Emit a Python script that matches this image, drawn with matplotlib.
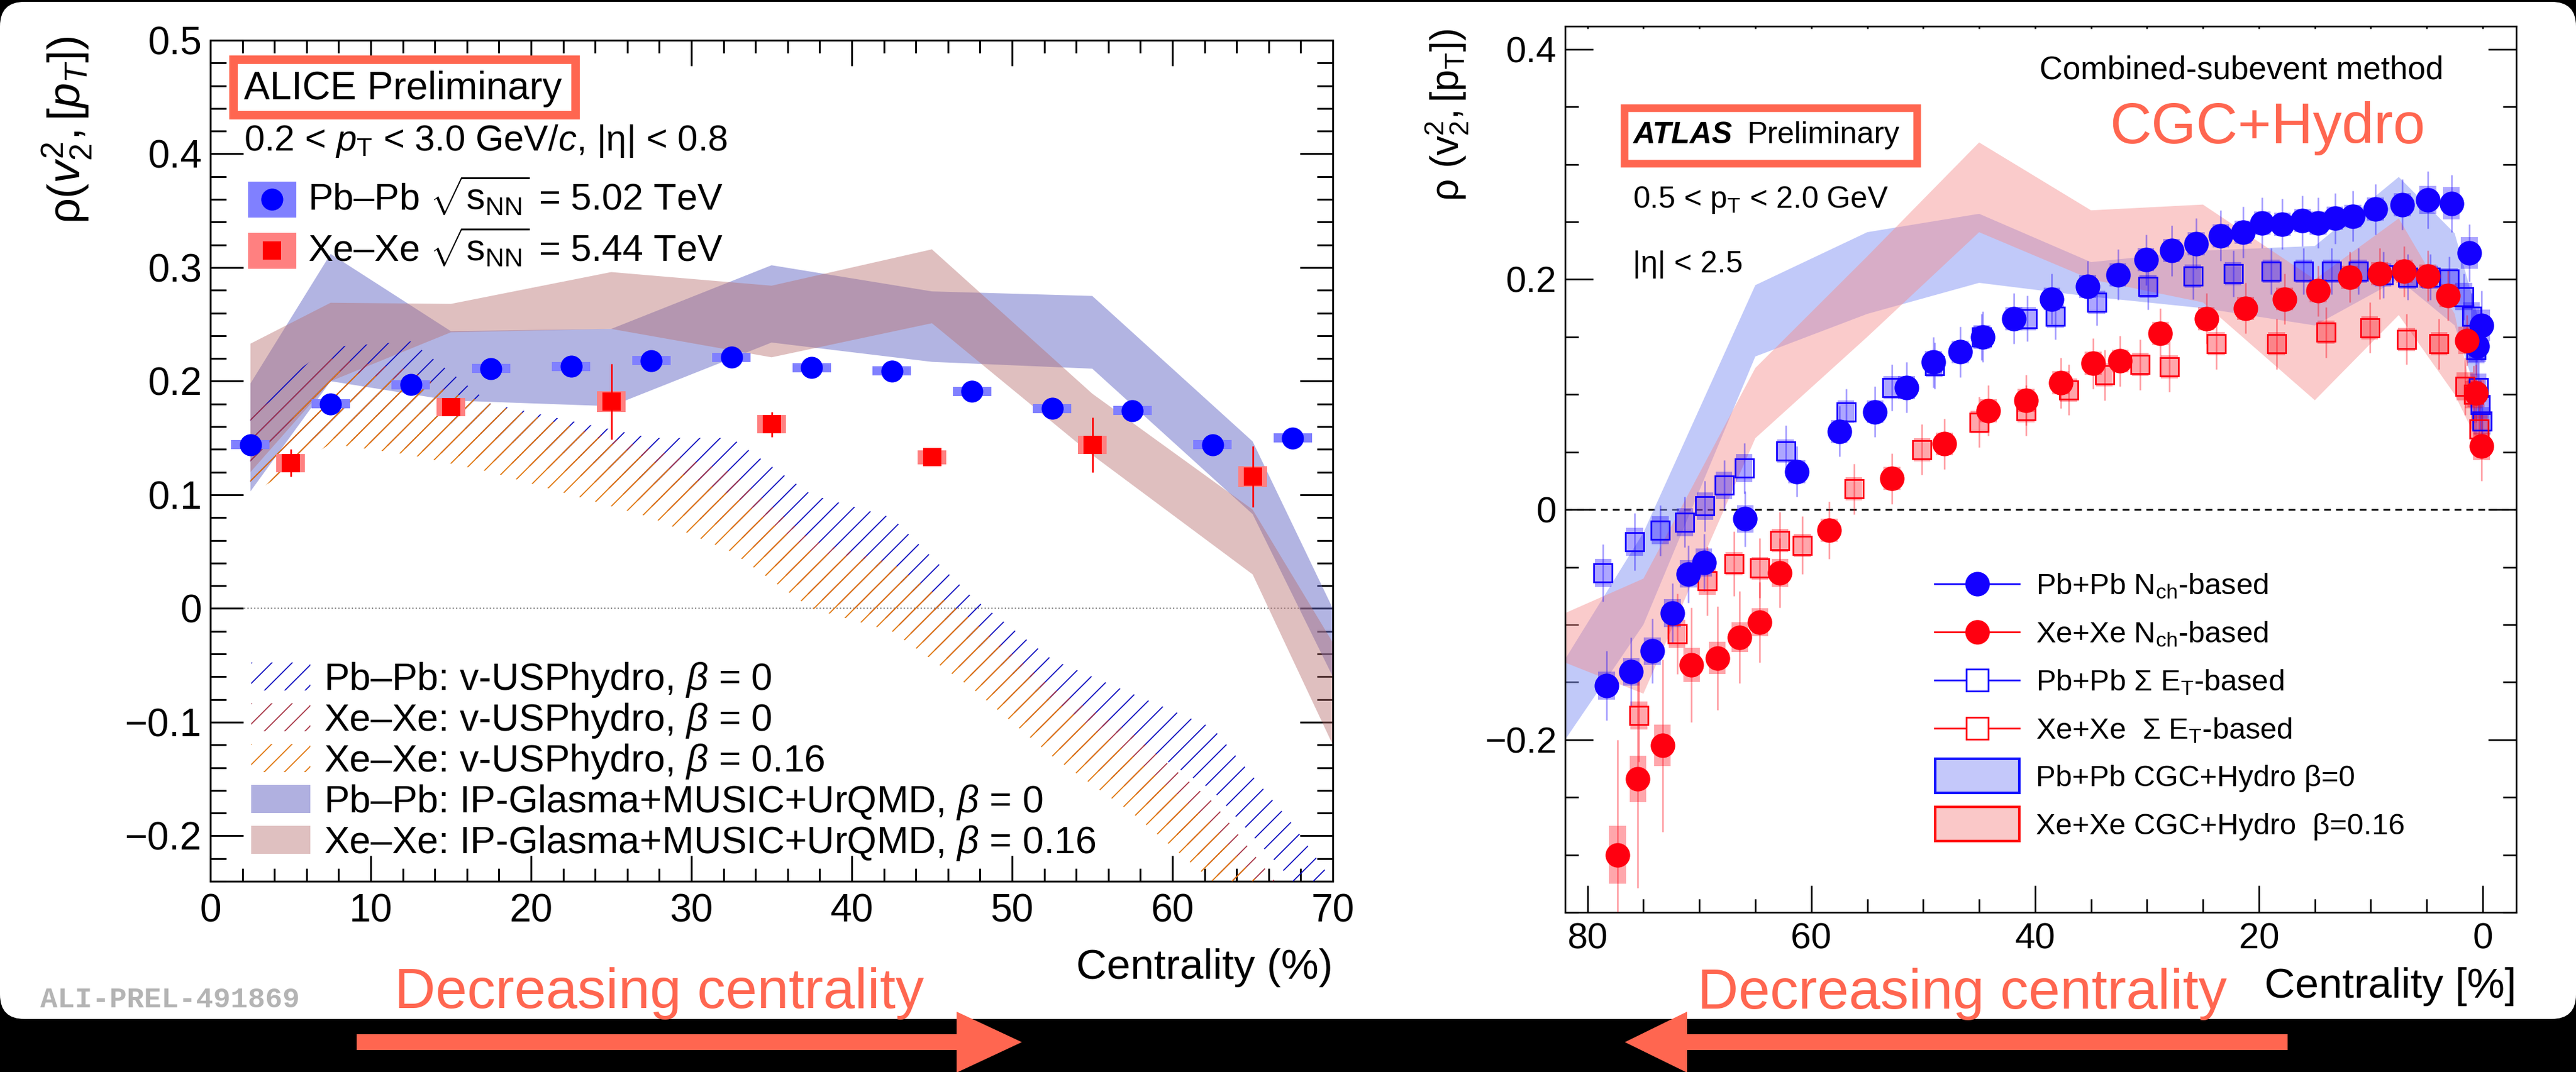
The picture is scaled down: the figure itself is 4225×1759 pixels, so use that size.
import numpy as np
import matplotlib
matplotlib.use('Agg')
import matplotlib.pyplot as plt
from matplotlib.patches import Rectangle, FancyBboxPatch, Polygon
from matplotlib.lines import Line2D
from matplotlib.ticker import MultipleLocator, FuncFormatter
from matplotlib.transforms import IdentityTransform

W, H, DPI = 4225, 1759, 100
plt.rcParams['font.family'] = ['Liberation Sans', 'DejaVu Sans']
plt.rcParams['mathtext.fontset'] = 'custom'
plt.rcParams['mathtext.rm'] = 'Liberation Sans'
plt.rcParams['mathtext.it'] = 'Liberation Sans:italic'
plt.rcParams['mathtext.bf'] = 'Liberation Sans:bold'
plt.rcParams['hatch.linewidth'] = 1.3

CORAL = '#ff6650'

# ---------------- ALICE data (left) ----------------
alice_pb_cent = [2.5, 7.5, 12.5, 17.5, 22.5, 27.5, 32.5, 37.5, 42.5, 47.5, 52.5, 57.5, 62.5, 67.5]
alice_pb_rho = [0.144, 0.180, 0.197, 0.211, 0.213, 0.218, 0.221, 0.212, 0.209, 0.191, 0.176, 0.174, 0.144, 0.150]
alice_pb_stat = [0.002, 0.002, 0.002, 0.002, 0.002, 0.002, 0.002, 0.002, 0.002, 0.002, 0.002, 0.003, 0.003, 0.004]
alice_pb_syst = [0.004, 0.004, 0.004, 0.004, 0.004, 0.004, 0.004, 0.004, 0.004, 0.004, 0.004, 0.004, 0.004, 0.004]

alice_xe_cent = [5, 15, 25, 35, 45, 55, 65]
alice_xe_rho = [0.128, 0.177, 0.182, 0.162, 0.133, 0.144, 0.116]
alice_xe_stat = [0.012, 0.005, 0.033, 0.011, 0.005, 0.024, 0.027]
alice_xe_syst = [0.008, 0.008, 0.009, 0.008, 0.006, 0.008, 0.009]

# IP-Glasma+MUSIC+UrQMD bands
ipg_pb_cent = [2.5, 7.5, 15, 25, 35, 45, 55, 65, 70]
ipg_pb_hi = [0.198, 0.312, 0.244, 0.246, 0.302, 0.279, 0.275, 0.147, 0.000]
ipg_pb_lo = [0.103, 0.200, 0.183, 0.178, 0.234, 0.217, 0.211, 0.083, -0.060]
ipg_xe_cent = [2.5, 7.5, 15, 25, 35, 45, 55, 65, 70]
ipg_xe_hi = [0.233, 0.269, 0.268, 0.296, 0.284, 0.316, 0.189, 0.087, -0.030]
ipg_xe_lo = [0.120, 0.200, 0.243, 0.246, 0.221, 0.251, 0.135, 0.030, -0.120]

# v-USPhydro bands
vus_cent = [2.5, 7.5, 12.5, 17.5, 22.5, 27.5, 32.5, 37.5, 42.5, 47.5, 52.5, 57.5, 62.5, 67.5, 70]
vus_pb_hi = [0.180, 0.230, 0.235, 0.180, 0.165, 0.150, 0.150, 0.100, 0.080, 0.010, -0.045, -0.075, -0.105, -0.190, -0.240]
vus_pb_lo = [0.110, 0.160, 0.175, 0.150, 0.135, 0.110, 0.100, 0.060, 0.030, -0.030, -0.085, -0.115, -0.160, -0.240, -0.290]
vus_xe0_hi = [0.170, 0.220, 0.210, 0.170, 0.160, 0.140, 0.120, 0.060, 0.040, -0.010, -0.070, -0.110, -0.170, -0.260, -0.300]
vus_xe0_lo = [0.100, 0.150, 0.140, 0.130, 0.120, 0.090, 0.070, 0.010, -0.010, -0.060, -0.120, -0.160, -0.230, -0.320, -0.360]
vus_xe16_hi = [0.120, 0.210, 0.200, 0.180, 0.160, 0.130, 0.100, 0.050, 0.040, -0.010, -0.080, -0.130, -0.190, -0.280, -0.320]
vus_xe16_lo = [0.100, 0.145, 0.135, 0.120, 0.100, 0.080, 0.050, 0.000, -0.020, -0.070, -0.130, -0.180, -0.240, -0.340, -0.380]

# ---------------- ATLAS data (right) ----------------
atl_pb_nch_cent = [78.3, 76.1, 74.2, 72.4, 71.0, 69.6, 65.9, 61.3, 57.5, 54.3, 51.5, 49.1, 46.7, 44.7, 41.9, 38.5,
                   35.3, 32.6, 30.1, 27.8, 25.6, 23.4, 21.4, 19.7, 17.9, 16.1, 14.7, 13.2, 11.6, 9.6, 7.2, 4.9,
                   2.8, 1.2, 0.5, 0.1]
atl_pb_nch_rho = [-0.153, -0.141, -0.123, -0.090, -0.056, -0.046, -0.008, 0.033, 0.068, 0.085, 0.106, 0.128, 0.137,
                  0.150, 0.166, 0.183, 0.194, 0.204, 0.217, 0.225, 0.231, 0.238, 0.241, 0.249, 0.248, 0.251, 0.249,
                  0.253, 0.255, 0.261, 0.265, 0.269, 0.266, 0.223, 0.142, 0.160]
atl_pb_nch_err = [0.030, 0.030, 0.028, 0.026, 0.025, 0.025, 0.024, 0.022, 0.022, 0.022, 0.022, 0.022, 0.022, 0.022,
                  0.022, 0.022, 0.022, 0.022, 0.022, 0.022, 0.022, 0.022, 0.022, 0.022, 0.022, 0.022, 0.022, 0.022,
                  0.022, 0.022, 0.022, 0.025, 0.025, 0.025, 0.028, 0.030]
atl_pb_nch_sys = [0.012, 0.012, 0.012, 0.012, 0.012, 0.012, 0.012, 0.010, 0.010, 0.010, 0.010, 0.010, 0.010, 0.010,
                  0.010, 0.010, 0.010, 0.010, 0.010, 0.010, 0.010, 0.010, 0.010, 0.010, 0.010, 0.010, 0.010, 0.010,
                  0.010, 0.010, 0.010, 0.012, 0.014, 0.014, 0.014, 0.014]

atl_xe_nch_cent = [77.3, 75.5, 73.3, 70.7, 68.4, 66.4, 64.6, 62.8, 58.4, 52.8, 48.1, 44.2, 40.8, 37.7, 34.8, 32.4,
                   28.8, 24.7, 21.2, 17.7, 14.7, 11.9, 9.2, 7.0, 4.9, 3.1, 1.4, 0.6, 0.1]
atl_xe_nch_rho = [-0.300, -0.234, -0.205, -0.135, -0.129, -0.111, -0.098, -0.055, -0.018, 0.027, 0.057, 0.086, 0.095,
                  0.110, 0.127, 0.129, 0.153, 0.166, 0.175, 0.183, 0.190, 0.202, 0.205, 0.207, 0.203, 0.186, 0.147,
                  0.101, 0.055]
atl_xe_nch_err = [0.100, 0.095, 0.075, 0.050, 0.045, 0.040, 0.035, 0.030, 0.025, 0.022, 0.022, 0.022, 0.022, 0.022,
                  0.022, 0.022, 0.022, 0.022, 0.022, 0.022, 0.022, 0.022, 0.022, 0.022, 0.022, 0.022, 0.022, 0.025,
                  0.030]
atl_xe_nch_sys = [0.025, 0.020, 0.018, 0.015, 0.014, 0.013, 0.012, 0.012, 0.010, 0.010, 0.010, 0.010, 0.010, 0.010,
                  0.010, 0.010, 0.010, 0.010, 0.010, 0.010, 0.010, 0.010, 0.010, 0.010, 0.010, 0.010, 0.012, 0.012,
                  0.012]

atl_pb_et_cent = [78.6, 75.8, 73.5, 71.3, 69.5, 67.8, 66.0, 62.3, 56.9, 52.8, 49.0, 44.8, 40.7, 38.2, 34.5, 29.9,
                  25.9, 22.3, 18.9, 16.0, 13.5, 11.1, 8.9, 6.7, 4.7, 3.0, 1.7, 1.0, 0.6, 0.4, 0.2, 0.05]
atl_pb_et_rho = [-0.055, -0.028, -0.018, -0.011, 0.003, 0.021, 0.036, 0.051, 0.085, 0.106, 0.125, 0.150, 0.166,
                 0.168, 0.180, 0.194, 0.203, 0.205, 0.207, 0.207, 0.207, 0.207, 0.204, 0.202, 0.202, 0.200, 0.185,
                 0.168, 0.139, 0.106, 0.091, 0.077]
atl_pb_et_err = [0.025, 0.025, 0.022, 0.022, 0.022, 0.022, 0.022, 0.022, 0.020, 0.020, 0.020, 0.020, 0.020, 0.020,
                 0.020, 0.020, 0.020, 0.020, 0.020, 0.020, 0.020, 0.020, 0.020, 0.020, 0.020, 0.020, 0.020, 0.020,
                 0.022, 0.022, 0.022, 0.022]
atl_pb_et_sys = [0.012, 0.012, 0.012, 0.012, 0.012, 0.012, 0.012, 0.010, 0.010, 0.010, 0.010, 0.010, 0.010, 0.010,
                 0.010, 0.010, 0.010, 0.010, 0.010, 0.010, 0.010, 0.010, 0.010, 0.010, 0.010, 0.010, 0.012, 0.012,
                 0.012, 0.012, 0.012, 0.012]

atl_xe_et_cent = [75.4, 72.0, 69.3, 66.9, 64.6, 62.8, 60.8, 56.2, 50.1, 45.0, 40.8, 37.0, 33.8, 30.6, 28.0, 23.8,
                  18.4, 14.0, 10.1, 6.8, 3.9, 1.6, 0.8, 0.3]
atl_xe_et_rho = [-0.179, -0.108, -0.062, -0.047, -0.051, -0.027, -0.031, 0.018, 0.052, 0.076, 0.086, 0.104, 0.117,
                 0.126, 0.124, 0.144, 0.144, 0.154, 0.158, 0.148, 0.144, 0.107, 0.100, 0.070]
atl_xe_et_err = [0.040, 0.035, 0.030, 0.028, 0.026, 0.025, 0.025, 0.022, 0.022, 0.022, 0.022, 0.022, 0.022, 0.022,
                 0.022, 0.022, 0.022, 0.022, 0.022, 0.022, 0.022, 0.025, 0.025, 0.025]
atl_xe_et_sys = [0.012, 0.012, 0.012, 0.010, 0.010, 0.010, 0.010, 0.010, 0.010, 0.010, 0.010, 0.010, 0.010, 0.010,
                 0.010, 0.010, 0.010, 0.010, 0.010, 0.010, 0.010, 0.012, 0.012, 0.012]

# CGC+Hydro bands
cgc_pb_cent = [82, 75, 65, 55, 45, 35, 25, 15, 7.5, 2.5, 0.5]
cgc_pb_hi = [-0.130, -0.020, 0.195, 0.241, 0.257, 0.215, 0.225, 0.229, 0.289, 0.240, 0.170]
cgc_pb_lo = [-0.200, -0.100, 0.133, 0.170, 0.197, 0.185, 0.175, 0.160, 0.200, 0.160, 0.100]
cgc_xe_cent = [82, 75, 65, 55, 45, 35, 25, 15, 7.5, 2.5, 0.5]
cgc_xe_hi = [-0.090, -0.060, 0.123, 0.220, 0.319, 0.260, 0.265, 0.200, 0.253, 0.170, 0.080]
cgc_xe_lo = [-0.133, -0.160, 0.062, 0.150, 0.241, 0.200, 0.180, 0.095, 0.169, 0.100, 0.060]


def fx(px):
    return px / W


def fy(py):
    return 1 - py / H


fig = plt.figure(figsize=(W / DPI, H / DPI), dpi=DPI)
fig.patch.set_facecolor('black')
panel = FancyBboxPatch((0, H - 1672), W, 1672 - 3, boxstyle='round,pad=0,rounding_size=40',
                       transform=IdentityTransform(), facecolor='white', edgecolor='none', zorder=-10)
fig.patches.append(panel)

# ================= LEFT PANEL =================
axL = fig.add_axes([fx(345), fy(1446), fx(2186) - fx(345), fy(66) - fy(1446)])
axL.set_zorder(1)
axL.set_facecolor('none')
axL.set_xlim(0, 70)
axL.set_ylim(-0.24, 0.5)
for s in axL.spines.values():
    s.set_linewidth(2.2)
axL.xaxis.set_major_locator(MultipleLocator(10))
axL.xaxis.set_minor_locator(MultipleLocator(2))
axL.yaxis.set_major_locator(MultipleLocator(0.1))
axL.yaxis.set_minor_locator(MultipleLocator(0.02))
axL.tick_params(which='both', direction='in', top=True, right=True, width=2.2)
axL.tick_params(which='major', axis='x', length=30, labelsize=46, pad=14)
axL.tick_params(which='minor', axis='x', length=15)
axL.tick_params(which='major', axis='y', length=39, labelsize=46, pad=10)
axL.tick_params(which='minor', axis='y', length=19)


def fmtL(v, pos):
    if abs(v) < 1e-9:
        return '0'
    return ('%.1f' % v).replace('-', '\u2212')


axL.yaxis.set_major_formatter(FuncFormatter(fmtL))
axL.xaxis.set_major_formatter(FuncFormatter(lambda v, p: '%d' % round(v)))
axL.axhline(0, color='#888888', ls=':', lw=1.5, zorder=1)

axL.fill_between(ipg_pb_cent, ipg_pb_lo, ipg_pb_hi, facecolor=(0.40, 0.42, 0.78), alpha=0.5, lw=0, zorder=2)
axL.fill_between(ipg_xe_cent, ipg_xe_lo, ipg_xe_hi, facecolor=(0.72, 0.45, 0.45), alpha=0.45, lw=0, zorder=2)
HB, HR, HO = '#1010c0', '#a83848', '#e07810'
axL.fill_between(vus_cent, vus_pb_lo, vus_pb_hi, facecolor='none', edgecolor=HB, hatch='/', lw=0, zorder=3)
axL.fill_between(vus_cent, vus_xe0_lo, vus_xe0_hi, facecolor='none', edgecolor=HR, hatch='/', lw=0, zorder=3)
axL.fill_between(vus_cent, vus_xe16_lo, vus_xe16_hi, facecolor='none', edgecolor=HO, hatch='/', lw=0, zorder=3)

for x, y, s in zip(alice_pb_cent, alice_pb_rho, alice_pb_syst):
    axL.add_patch(Rectangle((x - 1.2, y - s), 2.4, 2 * s, facecolor='#8080ff', edgecolor='none', zorder=5))
for x, y, s in zip(alice_xe_cent, alice_xe_rho, alice_xe_syst):
    axL.add_patch(Rectangle((x - 0.9, y - s), 1.8, 2 * s, facecolor='#ff8080', edgecolor='none', zorder=5))
axL.errorbar(alice_pb_cent, alice_pb_rho, yerr=alice_pb_stat, fmt='none', ecolor='#0000ff', elinewidth=2, zorder=6)
axL.errorbar(alice_xe_cent, alice_xe_rho, yerr=alice_xe_stat, fmt='none', ecolor='#ff0000', elinewidth=2, zorder=6)
axL.plot(alice_pb_cent, alice_pb_rho, 'o', color='#0000ff', ms=26, mew=0, zorder=7)
axL.plot(alice_xe_cent, alice_xe_rho, 's', color='#ff0000', ms=22, mew=0, zorder=7)

axL.set_ylabel(r'$\mathrm{ρ}(v^{2}_{2},[p_{T}])$', fontsize=53)
axL.yaxis.set_label_coords(-0.104, 0.893)
axL.set_xlabel('Centrality (%)', fontsize=50, ha='right')
axL.xaxis.set_label_coords(1.0, -0.080)

fig.patches.append(Rectangle((fx(383), fy(189)), fx(944) - fx(383), fy(98) - fy(189), transform=fig.transFigure,
                             facecolor='white', edgecolor=CORAL, lw=10, zorder=10))
fig.text(fx(400), fy(163), 'ALICE Preliminary', fontsize=46, ha='left', va='baseline', zorder=11)
fig.text(fx(400), fy(247), r'0.2 < $p_{\mathrm{T}}$ < 3.0 GeV/$c$, |η| < 0.8', fontsize=43, ha='left',
         va='baseline', zorder=11)
fig.patches.append(Rectangle((fx(407), fy(357)), fx(79), fy(0) - fy(59), transform=fig.transFigure,
                             facecolor='#8080ff', edgecolor='none', zorder=10))
fig.lines.append(Line2D([fx(446)], [fy(327)], marker='o', ms=26, color='#0000ff', mew=0,
                        transform=fig.transFigure, zorder=11))
fig.text(fx(505), fy(344), r'Pb–Pb $\sqrt{\mathrm{s}_{\mathrm{NN}}}$ = 5.02 TeV', fontsize=44, ha='left',
         va='baseline', zorder=11)
fig.patches.append(Rectangle((fx(407), fy(441)), fx(79), fy(0) - fy(59), transform=fig.transFigure,
                             facecolor='#ff8080', edgecolor='none', zorder=10))
fig.lines.append(Line2D([fx(446)], [fy(411)], marker='s', ms=22, color='#ff0000', mew=0,
                        transform=fig.transFigure, zorder=11))
fig.text(fx(505), fy(428), r'Xe–Xe $\sqrt{\mathrm{s}_{\mathrm{NN}}}$ = 5.44 TeV', fontsize=44, ha='left',
         va='baseline', zorder=11)

leg_items = [
    ('h', HB, r'Pb–Pb: v-USPhydro, $\mathit{\beta}$ = 0'),
    ('h', HR, r'Xe–Xe: v-USPhydro, $\mathit{\beta}$ = 0'),
    ('h', HO, r'Xe–Xe: v-USPhydro, $\mathit{\beta}$ = 0.16'),
    ('f', '#b0b0e0', r'Pb–Pb: IP-Glasma+MUSIC+UrQMD, $\mathit{\beta}$ = 0'),
    ('f', '#dfc0c0', r'Xe–Xe: IP-Glasma+MUSIC+UrQMD, $\mathit{\beta}$ = 0.16'),
]
for i, (kind, col, lab) in enumerate(leg_items):
    yc = 1110 + i * 67
    if kind == 'h':
        r = Rectangle((fx(412), fy(yc + 23)), fx(97), fy(0) - fy(46), transform=fig.transFigure,
                      facecolor='none', edgecolor=col, hatch='/', lw=0, zorder=10)
    else:
        r = Rectangle((fx(412), fy(yc + 23)), fx(97), fy(0) - fy(46), transform=fig.transFigure,
                      facecolor=col, edgecolor='none', zorder=10)
    fig.patches.append(r)
    fig.text(fx(531), fy(yc + 22), lab, fontsize=45, ha='left', va='baseline', zorder=11)

fig.text(fx(66), fy(1653), 'ALI-PREL-491869', fontsize=34, family='Liberation Mono', weight='bold',
         color='#b4b4b4', ha='left', va='baseline')

# ================= RIGHT PANEL =================
axR = fig.add_axes([fx(2567), fy(1497), fx(4127) - fx(2567), fy(43) - fy(1497)])
axR.set_zorder(1)
axR.set_facecolor('none')
axR.set_xlim(82, -3)
axR.set_ylim(-0.35, 0.42)
for s in axR.spines.values():
    s.set_linewidth(1.9)
axR.xaxis.set_major_locator(MultipleLocator(20))
axR.xaxis.set_minor_locator(MultipleLocator(5))
axR.yaxis.set_major_locator(MultipleLocator(0.2))
axR.yaxis.set_minor_locator(MultipleLocator(0.05))
axR.tick_params(which='both', direction='in', right=True, top=True, width=1.9)
axR.tick_params(which='major', axis='x', length=32, labelsize=43, pad=12)
axR.tick_params(which='minor', axis='x', length=16)
axR.tick_params(which='major', axis='y', length=33, labelsize=43, pad=10)
axR.tick_params(which='minor', axis='y', length=16)
axR.yaxis.set_major_formatter(FuncFormatter(fmtL))
axR.xaxis.set_major_formatter(FuncFormatter(lambda v, p: '%d' % round(v)))
axR.axhline(0, color='black', ls='--', lw=2, dashes=(4, 3), zorder=1)
for t in axR.xaxis.get_major_ticks() + axR.xaxis.get_minor_ticks():
    t.tick2line.set_markersize(3)

axR.fill_between(cgc_pb_cent, cgc_pb_lo, cgc_pb_hi, facecolor=(0.52, 0.58, 0.96), alpha=0.5, lw=0, zorder=2)
axR.fill_between(cgc_xe_cent, cgc_xe_lo, cgc_xe_hi, facecolor=(0.96, 0.55, 0.55), alpha=0.45, lw=0, zorder=2)


def draw_series(ax, xs, ys, es, ss, col, marker, ms, filled):
    for x, y, s in zip(xs, ys, ss):
        ax.add_patch(Rectangle((x - 0.75, y - s), 1.5, 2 * s, facecolor=col, alpha=0.35, edgecolor='none', zorder=4))
    ax.errorbar(xs, ys, yerr=es, fmt='none', ecolor=col, elinewidth=1.8, alpha=0.4, zorder=5)
    if filled:
        ax.plot(xs, ys, marker, color=col, ms=ms, mew=0, ls='none', zorder=6)
    else:
        ax.plot(xs, ys, marker, mfc='none', mec=col, ms=ms, mew=2, ls='none', zorder=6)


BLU, RED = '#1400ff', '#ff0010'
draw_series(axR, atl_pb_et_cent, atl_pb_et_rho, atl_pb_et_err, atl_pb_et_sys, BLU, 's', 22, False)
draw_series(axR, atl_xe_et_cent, atl_xe_et_rho, atl_xe_et_err, atl_xe_et_sys, RED, 's', 22, False)
draw_series(axR, atl_pb_nch_cent, atl_pb_nch_rho, atl_pb_nch_err, atl_pb_nch_sys, BLU, 'o', 29, True)
draw_series(axR, atl_xe_nch_cent, atl_xe_nch_rho, atl_xe_nch_err, atl_xe_nch_sys, RED, 'o', 29, True)

axR.set_ylabel(r'$\mathrm{ρ}\ (\mathrm{v}^{2}_{2},[\mathrm{p}_{\mathrm{T}}])$', fontsize=46)
axR.yaxis.set_label_coords(-0.100, 0.90)
axR.set_xlabel('Centrality [%]', fontsize=50, ha='right')
axR.xaxis.set_label_coords(1.0, -0.062)

fig.text(fx(3345), fy(130), 'Combined-subevent method', fontsize=38, ha='left', va='baseline')
fig.text(fx(3460), fy(235), 'CGC+Hydro', fontsize=68, color=CORAL, ha='left', va='baseline')
fig.patches.append(Rectangle((fx(2664), fy(268)), fx(3144) - fx(2664), fy(177) - fy(268), transform=fig.transFigure,
                             facecolor='white', edgecolor=CORAL, lw=9, zorder=10))
fig.text(fx(2678), fy(235), 'ATLAS', fontsize=36, weight='bold', style='italic', ha='left', va='baseline', zorder=11)
fig.text(fx(2866), fy(235), 'Preliminary', fontsize=36, ha='left', va='baseline', zorder=11)
fig.text(fx(2678), fy(341), r'0.5 < p$_{\mathrm{T}}$ < 2.0 GeV', fontsize=36, ha='left', va='baseline')
fig.text(fx(2678), fy(447), '|η| < 2.5', fontsize=36, ha='left', va='baseline')

rleg = [
    ('o', BLU, True, r'Pb+Pb N$_{\mathrm{ch}}$-based'),
    ('o', RED, True, r'Xe+Xe N$_{\mathrm{ch}}$-based'),
    ('s', BLU, False, r'Pb+Pb $\Sigma$ E$_{\mathrm{T}}$-based'),
    ('s', RED, False, r'Xe+Xe  $\Sigma$ E$_{\mathrm{T}}$-based'),
]
for i, (m, c, filled, lab) in enumerate(rleg):
    yc = 958 + i * 79
    fig.lines.append(Line2D([fx(3173), fx(3312)], [fy(yc), fy(yc)], color=c, lw=2, transform=fig.transFigure))
    if filled:
        fig.lines.append(Line2D([fx(3243)], [fy(yc)], marker=m, ms=29, color=c, mew=0, transform=fig.transFigure))
    else:
        fig.lines.append(Line2D([fx(3243)], [fy(yc)], marker=m, ms=26, mfc='white', mec=c, mew=2,
                                transform=fig.transFigure))
    fig.text(fx(3339), fy(yc + 17), lab, fontsize=35, ha='left', va='baseline')
for i, (fc, ec, lab) in enumerate([('#c4c8fa', '#1010ff', r'Pb+Pb CGC+Hydro β=0'),
                                   ('#fac8c8', '#ff1010', r'Xe+Xe CGC+Hydro  β=0.16')]):
    yc = 1273 + i * 79
    fig.patches.append(Rectangle((fx(3174), fy(yc + 28)), fx(138), fy(0) - fy(56), transform=fig.transFigure,
                                 facecolor=fc, edgecolor=ec, lw=3, zorder=10))
    fig.text(fx(3339), fy(yc + 17), lab, fontsize=35, ha='left', va='baseline')

fig.text(fx(647), fy(1654), 'Decreasing centrality', fontsize=67, color=CORAL, ha='left', va='baseline')
fig.text(fx(2784), fy(1655), 'Decreasing centrality', fontsize=67, color=CORAL, ha='left', va='baseline')


def arrow_poly(x0, x1, xhead, yc, half_shaft, half_head):
    return [(x0, H - (yc - half_shaft)), (xhead, H - (yc - half_shaft)), (xhead, H - (yc - half_head)),
            (x1, H - yc), (xhead, H - (yc + half_head)), (xhead, H - (yc + half_shaft)), (x0, H - (yc + half_shaft))]


fig.patches.append(Polygon(arrow_poly(585, 1676, 1569, 1710, 13, 50), closed=True, transform=IdentityTransform(),
                           facecolor=CORAL, edgecolor='none', zorder=20))
fig.patches.append(Polygon(arrow_poly(3752, 2665, 2767, 1710, 13, 50), closed=True, transform=IdentityTransform(),
                           facecolor=CORAL, edgecolor='none', zorder=20))

fig.savefig('out.png', dpi=DPI, facecolor='black')
